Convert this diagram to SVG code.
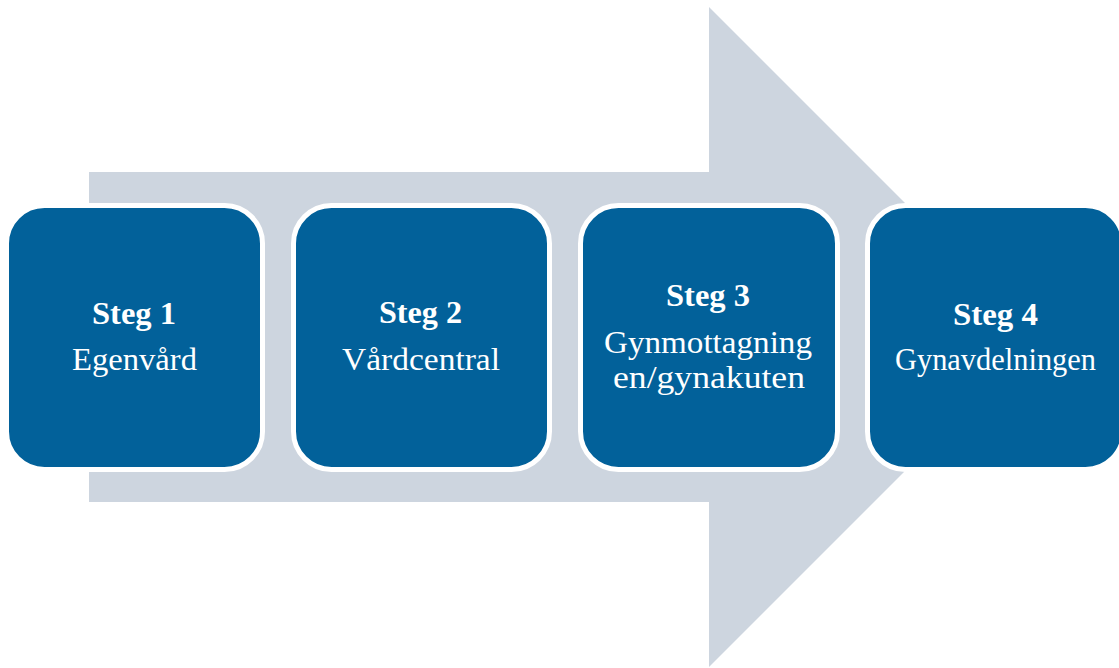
<svg xmlns="http://www.w3.org/2000/svg" width="1119" height="668" viewBox="0 0 1119 668">
<style>
.box{fill:#02619A;stroke:#FFFFFF;stroke-width:5}
.t{font-family:"Liberation Serif","DejaVu Serif",serif;fill:#FFFFFF;text-anchor:middle}
.h{font-size:32px;font-weight:bold}
.s{font-size:32px}
</style>
<rect width="1119" height="668" fill="#FFFFFF"/>
<g id="arrow">
<polygon points="89,172 709,172 709,7 1039,337 709,667 709,502 89,502" fill="#CDD5DF"/>
</g>
<g id="connectors"></g>
<g id="step1">
<rect class="box" x="6.5" y="205.5" width="256" height="264" rx="38"/>
<text class="t h" x="134" y="324" textLength="84" lengthAdjust="spacingAndGlyphs">Steg 1</text>
<text class="t s" x="134.5" y="370" textLength="125" lengthAdjust="spacingAndGlyphs">Egenvård</text>
</g>
<g id="step2">
<rect class="box" x="293.5" y="205.5" width="256" height="264" rx="38"/>
<text class="t h" x="420.5" y="323" textLength="83" lengthAdjust="spacingAndGlyphs">Steg 2</text>
<text class="t s" x="421" y="370" textLength="158" lengthAdjust="spacingAndGlyphs">Vårdcentral</text>
</g>
<g id="step3">
<rect class="box" x="580.5" y="205.5" width="257" height="264" rx="38"/>
<text class="t h" x="708" y="306" textLength="84" lengthAdjust="spacingAndGlyphs">Steg 3</text>
<text class="t s" x="708" y="353" textLength="208" lengthAdjust="spacingAndGlyphs">Gynmottagning</text>
<text class="t s" x="709" y="388" textLength="192" lengthAdjust="spacingAndGlyphs">en/gynakuten</text>
</g>
<g id="step4">
<rect class="box" x="867.5" y="205.5" width="256" height="264" rx="38"/>
<text class="t h" x="995.5" y="325" textLength="85" lengthAdjust="spacingAndGlyphs">Steg 4</text>
<text class="t s" x="995.5" y="370" textLength="201" lengthAdjust="spacingAndGlyphs">Gynavdelningen</text>
</g>
</svg>
